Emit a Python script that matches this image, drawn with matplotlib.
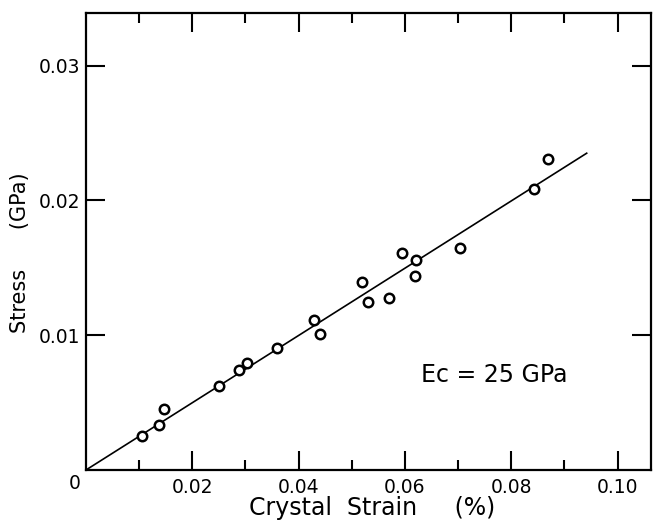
import matplotlib
matplotlib.use("Agg")
import matplotlib.pyplot as plt
from matplotlib.ticker import FixedLocator

# crystal strain (%) and stress (GPa)
strain = [0.0105, 0.0138, 0.0147, 0.0250, 0.0288, 0.0302, 0.0359, 0.0429,
          0.0441, 0.0520, 0.0530, 0.0571, 0.0594, 0.0620, 0.0619, 0.0704,
          0.0843, 0.0870]
stress = [0.00249, 0.00336, 0.00455, 0.00622, 0.00739, 0.00796, 0.00908, 0.01112,
          0.01012, 0.01398, 0.01249, 0.01276, 0.01612, 0.01560, 0.01440, 0.01644,
          0.02087, 0.02308]

# fitted line, Ec = 25 GPa
fit_strain = [0.0, 0.0942]
fit_stress = [0.0, 0.0235]

x_ticks = [0.02, 0.04, 0.06, 0.08, 0.10]
x_labels = ["0.02", "0.04", "0.06", "0.08", "0.10"]
y_ticks = [0.01, 0.02, 0.03]
y_labels = ["0.01", "0.02", "0.03"]

plt.rcParams.update({
    'font.family': 'DejaVu Sans',
    'axes.linewidth': 1.6,
})

fig = plt.figure(figsize=(6.55, 5.25), dpi=100)
ax = fig.add_axes([0.1313, 0.1048, 0.8626, 0.8704])

ax.plot(fit_strain, fit_stress, color='k', lw=1.2)
ax.plot(strain, stress, 'o', ms=6.8, mfc='white', mec='k', mew=1.8)

ax.set_xlim(0, 0.1063)
ax.set_ylim(0, 0.0339)

ax.xaxis.set_major_locator(FixedLocator(x_ticks))
ax.set_xticklabels(x_labels)
ax.xaxis.set_minor_locator(FixedLocator([0.01, 0.03, 0.05, 0.07, 0.09]))
ax.yaxis.set_major_locator(FixedLocator(y_ticks))
ax.set_yticklabels(y_labels)

ax.tick_params(which='both', direction='in', top=True, right=True, width=1.5, colors='k')
ax.tick_params(which='major', length=14, labelsize=13.5)
ax.tick_params(axis='x', which='major', pad=6)
ax.tick_params(axis='y', which='major', pad=4)
ax.tick_params(which='minor', length=7)

ax.annotate("0", xy=(0, 0), xytext=(-8.5, -9.5), textcoords='offset points',
            ha='center', va='center', fontsize=13.5)

ax.set_xlabel("Crystal  Strain     (%)", fontsize=17)
ax.xaxis.set_label_coords(0.507, -0.058)
ax.set_ylabel("Stress      (GPa)", fontsize=15)
ax.yaxis.set_label_coords(-0.099, 0.476)

ax.text(0.0631, 0.00705, "Ec = 25 GPa", fontsize=17, ha='left', va='center')

fig.savefig("out.png", dpi=100)
